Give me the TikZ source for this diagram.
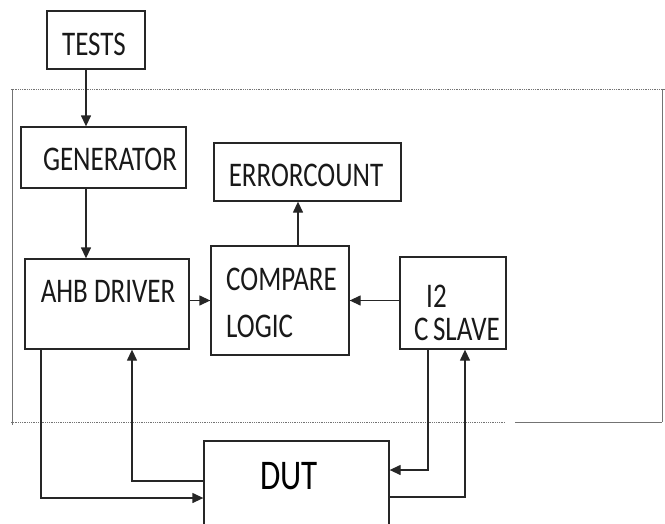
\documentclass[tikz,border=0pt]{standalone}
\usepackage{fontspec}
\usepackage{graphicx}
\setmainfont{Carlito}
\usetikzlibrary{arrows.meta}
\newcommand\stretchtxt[1]{\scalebox{1}[1.28]{#1}}
\begin{document}
\begin{tikzpicture}[x=1pt,y=-1pt,
  box/.style={draw=black!85,line width=1.3pt,inner sep=0pt},
  lbl/.style={inner sep=0pt,font=\fontsize{27}{30}\selectfont,text=black!90},
  arr/.style={draw=black!85,line width=1.3pt,-{Triangle[length=11pt,width=10pt]}},
  frame/.style={draw=black!55,line width=0.8pt}]
\useasboundingbox (0,0) rectangle (665,523);
% outer frame
\draw[frame,densely dotted] (11,89) -- (665,89);
\draw[frame] (12,89) -- (12,425);
\draw[frame] (662,89) -- (662,422);
\draw[frame,densely dotted] (11,422) -- (505,422);
\draw[frame] (515,422) -- (662,422);
% boxes
\node[box,minimum width=98pt,minimum height=58pt] (tests) at (96,40) {};
\node[box,minimum width=165pt,minimum height=61pt] (gen) at (103.5,157.5) {};
\node[box,minimum width=187pt,minimum height=58pt] (err) at (307.5,172) {};
\node[box,minimum width=164pt,minimum height=90pt] (ahb) at (107,304) {};
\node[box,minimum width=138pt,minimum height=109pt] (cmp) at (280,300.5) {};
\node[box,minimum width=106pt,minimum height=92pt] (i2c) at (453,303) {};
\node[box,minimum width=185pt,minimum height=130pt] (dut) at (296.5,506) {};
% texts
\node[lbl] (tTests) at (94,44) {\stretchtxt{TESTS}};
\node[lbl] (tGen) at (110,159) {\stretchtxt{GENERATOR}};
\node[lbl] (tErr) at (306,175) {\stretchtxt{ERRORCOUNT}};
\node[lbl] (tAhb) at (108,291) {\stretchtxt{AHB DRIVER}};
\node[lbl,anchor=west] (tCmp1) at (226,279) {\stretchtxt{COMPARE}};
\node[lbl,anchor=west] (tCmp2) at (226,326) {\stretchtxt{LOGIC}};
\node[lbl,anchor=west] (tI2) at (426,296) {\stretchtxt{I2}};
\node[lbl] (tSlave) at (457,329) {\stretchtxt{C\,SLAVE}};
\node[lbl,font=\fontsize{33}{36}\selectfont,text=black] (tDut) at (289,476) {\stretchtxt{DUT}};
% guide coordinates
\coordinate (gx1) at (86,0);
\coordinate (gx2) at (298,0);
\coordinate (gx3) at (41,0);
\coordinate (gx4) at (132,0);
\coordinate (gx5) at (428,0);
\coordinate (gx6) at (465,0);
\coordinate (gy1) at (0,498);
\coordinate (gy2) at (0,481);
\coordinate (gy3) at (0,470);
\coordinate (gy4) at (0,497);
% connectors
\draw[arr] (tests.south -| gx1) -- (gen.north -| gx1);
\draw[arr] (gen.south -| gx1) -- (ahb.north -| gx1);
\draw[arr] (cmp.north -| gx2) -- (err.south -| gx2);
\draw[arr] (cmp.west -| ahb.east) -- (cmp.west);
\draw[arr] (cmp.east -| i2c.west) -- (cmp.east);
\draw[arr] (ahb.south -| gx3) |- (dut.west |- gy1);
\draw[arr] (dut.west |- gy2) -| (ahb.south -| gx4);
\draw[arr] (i2c.south -| gx5) |- (dut.east |- gy3);
\draw[arr] (dut.east |- gy4) -| (i2c.south -| gx6);
\end{tikzpicture}
\end{document}
